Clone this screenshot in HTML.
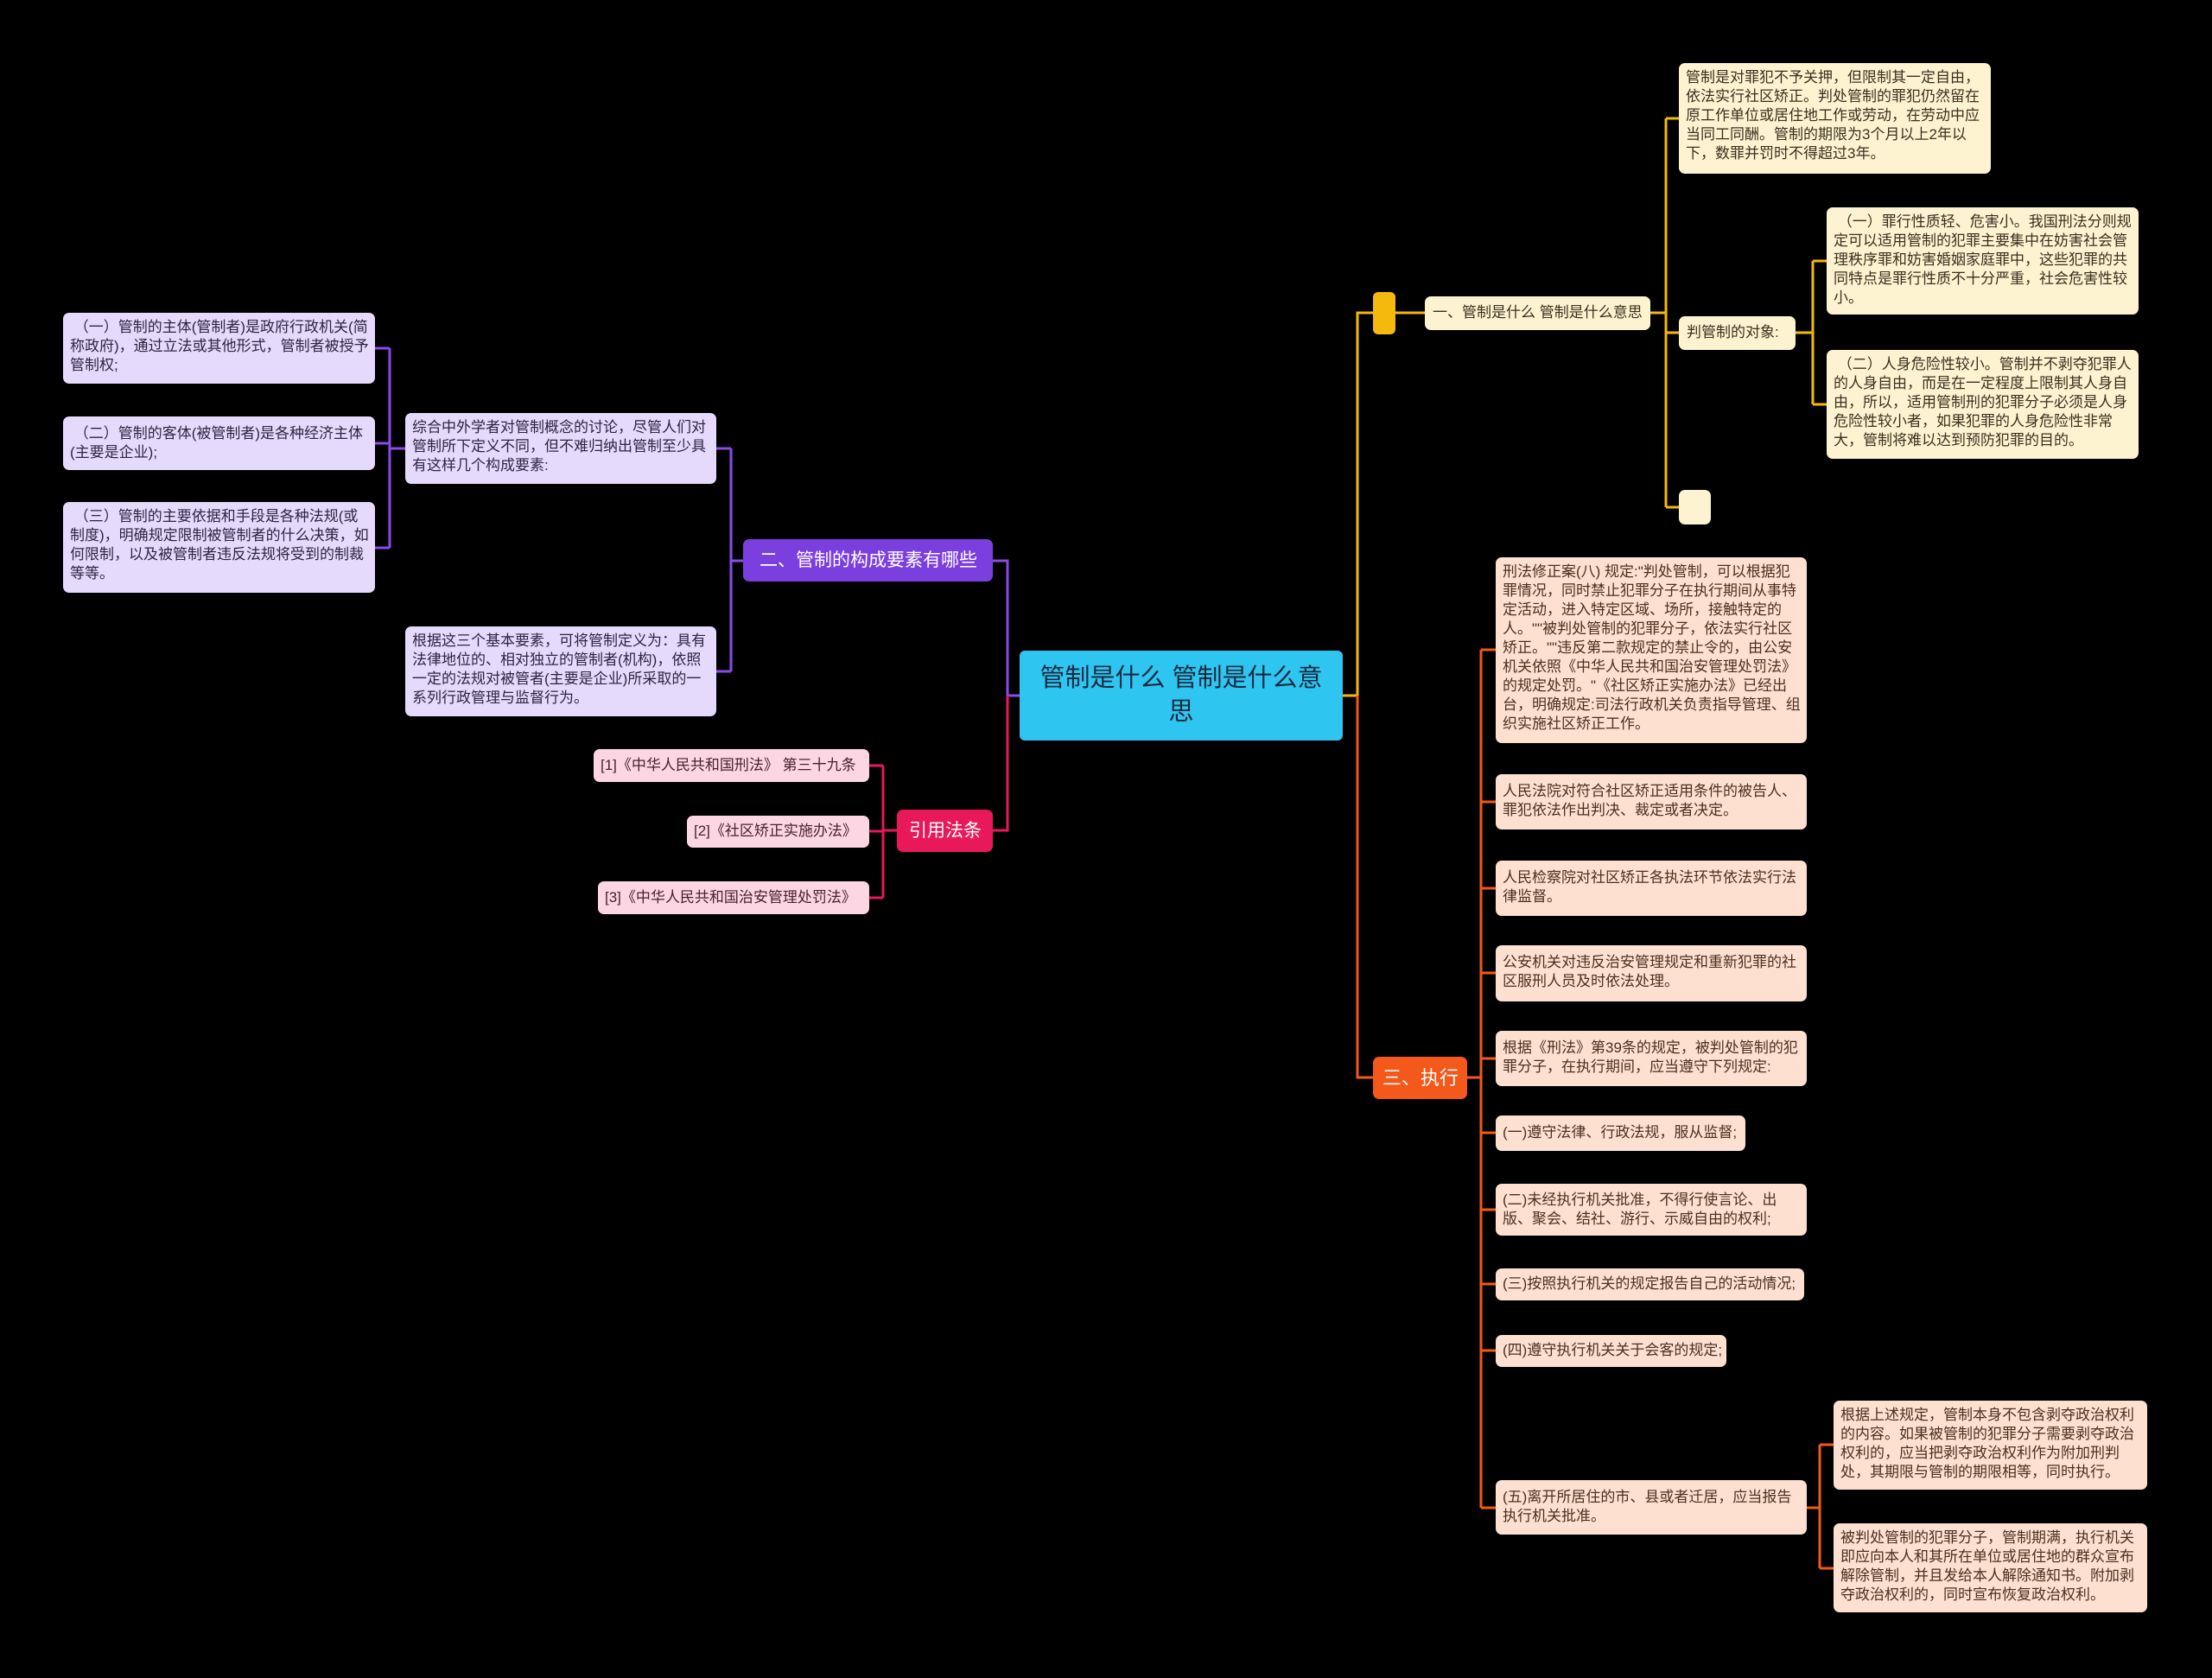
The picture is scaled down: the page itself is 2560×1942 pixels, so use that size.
<!DOCTYPE html>
<html><head><meta charset="utf-8">
<style>
html,body{margin:0;padding:0;background:#000;}
body{width:2560px;height:1942px;position:relative;overflow:hidden;font-family:"Liberation Sans","Noto Sans CJK SC",sans-serif;}
.n{position:absolute;box-sizing:border-box;border-radius:7px;font-size:17px;line-height:22px;padding:6px 7px 6px 8px;color:#3a3020;overflow:hidden;}
.nw{white-space:nowrap;}
.y{background:#fdf3d0;}
.o{background:#fde0d0;color:#4a3020;}
.p{background:#e6dafc;color:#2e2440;}
.k{background:#fcd6e2;color:#4a2030;}
svg{position:absolute;left:0;top:0;}
</style></head><body>
<svg width="2560" height="1942" fill="none" stroke-width="3">
<path d="M1554 805 H1571 M1571 805 V362 H1589" stroke="#f5b80c"/>
<path d="M1571 805 V1247 H1589" stroke="#f4581a"/>
<path d="M1615 362 H1649" stroke="#f5b80c"/>
<path d="M1910 362 H1928 M1928 137 V587 M1928 137 H1943 M1928 385 H1943 M1928 587 H1943" stroke="#f5b80c"/>
<path d="M2078 385 H2098 M2098 302 V468 M2098 302 H2114 M2098 468 H2114" stroke="#f5b80c"/>
<path d="M1698 1247 H1714 M1714 752 V1745 M1714 752 H1731 M1714 928 H1731 M1714 1028 H1731 M1714 1126 H1731 M1714 1225 H1731 M1714 1311 H1731 M1714 1400 H1731 M1714 1486 H1731 M1714 1563 H1731 M1714 1745 H1731" stroke="#f4581a"/>
<path d="M2091 1745 H2106 M2106 1672 V1815 M2106 1672 H2122 M2106 1815 H2122" stroke="#f4581a"/>
<path d="M1180 805 H1166 M1166 805 V649 H1149" stroke="#8a4be8"/>
<path d="M1166 805 V961 H1149" stroke="#e8185a"/>
<path d="M860 649 H846 M846 519 V777 M846 519 H829 M846 777 H829" stroke="#8a4be8"/>
<path d="M469 519 H451 M451 403 V634 M451 403 H434 M451 513 H434 M451 634 H434" stroke="#8a4be8"/>
<path d="M1038 961 H1022 M1022 886 V1039 M1022 886 H1006 M1022 962 H1006 M1022 1039 H1006" stroke="#e8185a"/>
</svg>

<div class="n" style="left:1180px;top:753px;width:374px;height:104px;background:#2ec5f0;color:#1a2a40;font-size:29px;line-height:39px;text-align:center;padding:13px 20px;border-radius:6px;">管制是什么 管制是什么意思</div>

<div class="n" style="left:1589px;top:338px;width:26px;height:49px;background:#f5b80c;border-radius:6px;"></div>
<div class="n y nw" style="left:1649px;top:343px;width:261px;height:39px;padding:8px 9px;">一、管制是什么 管制是什么意思</div>
<div class="n y" style="left:1943px;top:73px;width:361px;height:128px;">管制是对罪犯不予关押，但限制其一定自由，依法实行社区矫正。判处管制的罪犯仍然留在原工作单位或居住地工作或劳动，在劳动中应当同工同酬。管制的期限为3个月以上2年以下，数罪并罚时不得超过3年。</div>
<div class="n y nw" style="left:1943px;top:366px;width:135px;height:39px;padding:8px 9px;">判管制的对象:</div>
<div class="n y" style="left:2114px;top:240px;width:361px;height:124px;">&nbsp;（一）罪行性质轻、危害小。我国刑法分则规定可以适用管制的犯罪主要集中在妨害社会管理秩序罪和妨害婚姻家庭罪中，这些犯罪的共同特点是罪行性质不十分严重，社会危害性较小。</div>
<div class="n y" style="left:2114px;top:405px;width:361px;height:126px;">&nbsp;（二）人身危险性较小。管制并不剥夺犯罪人的人身自由，而是在一定程度上限制其人身自由，所以，适用管制刑的犯罪分子必须是人身危险性较小者，如果犯罪的人身危险性非常大，管制将难以达到预防犯罪的目的。</div>
<div class="n y" style="left:1943px;top:567px;width:37px;height:40px;"></div>

<div class="n nw" style="left:1589px;top:1223px;width:109px;height:49px;background:#f4581a;color:#fff;font-size:22px;line-height:37px;text-align:center;">三、执行</div>
<div class="n o" style="left:1731px;top:645px;width:360px;height:215px;">刑法修正案(八) 规定:"判处管制，可以根据犯罪情况，同时禁止犯罪分子在执行期间从事特定活动，进入特定区域、场所，接触特定的人。""被判处管制的犯罪分子，依法实行社区矫正。""违反第二款规定的禁止令的，由公安机关依照《中华人民共和国治安管理处罚法》的规定处罚。"《社区矫正实施办法》已经出台，明确规定:司法行政机关负责指导管理、组织实施社区矫正工作。</div>
<div class="n o" style="left:1731px;top:896px;width:360px;height:64px;padding-top:9px;">人民法院对符合社区矫正适用条件的被告人、罪犯依法作出判决、裁定或者决定。</div>
<div class="n o" style="left:1731px;top:996px;width:360px;height:64px;padding-top:9px;">人民检察院对社区矫正各执法环节依法实行法律监督。</div>
<div class="n o" style="left:1731px;top:1094px;width:360px;height:65px;padding-top:9px;">公安机关对违反治安管理规定和重新犯罪的社区服刑人员及时依法处理。</div>
<div class="n o" style="left:1731px;top:1193px;width:360px;height:64px;padding-top:9px;">根据《刑法》第39条的规定，被判处管制的犯罪分子，在执行期间，应当遵守下列规定:</div>
<div class="n o nw" style="left:1731px;top:1291px;width:289px;height:41px;padding-top:9px;">(一)遵守法律、行政法规，服从监督;</div>
<div class="n o" style="left:1731px;top:1370px;width:360px;height:60px;padding-top:8px;">(二)未经执行机关批准，不得行使言论、出版、聚会、结社、游行、示威自由的权利;</div>
<div class="n o nw" style="left:1731px;top:1468px;width:357px;height:37px;padding-top:7px;">(三)按照执行机关的规定报告自己的活动情况;</div>
<div class="n o nw" style="left:1731px;top:1545px;width:267px;height:37px;padding-top:7px;">(四)遵守执行机关关于会客的规定;</div>
<div class="n o" style="left:1731px;top:1713px;width:360px;height:63px;padding-top:9px;">(五)离开所居住的市、县或者迁居，应当报告执行机关批准。</div>
<div class="n o" style="left:2122px;top:1621px;width:363px;height:103px;">根据上述规定，管制本身不包含剥夺政治权利的内容。如果被管制的犯罪分子需要剥夺政治权利的，应当把剥夺政治权利作为附加刑判处，其期限与管制的期限相等，同时执行。</div>
<div class="n o" style="left:2122px;top:1763px;width:363px;height:103px;">被判处管制的犯罪分子，管制期满，执行机关即应向本人和其所在单位或居住地的群众宣布解除管制，并且发给本人解除通知书。附加剥夺政治权利的，同时宣布恢复政治权利。</div>

<div class="n nw" style="left:860px;top:624px;width:289px;height:49px;background:#7b3fe0;color:#fff;font-size:21px;line-height:37px;text-align:center;">二、管制的构成要素有哪些</div>
<div class="n p" style="left:469px;top:478px;width:360px;height:82px;">综合中外学者对管制概念的讨论，尽管人们对管制所下定义不同，但不难归纳出管制至少具有这样几个构成要素:</div>
<div class="n p" style="left:469px;top:725px;width:360px;height:104px;">根据这三个基本要素，可将管制定义为：具有法律地位的、相对独立的管制者(机构)，依照一定的法规对被管者(主要是企业)所采取的一系列行政管理与监督行为。</div>
<div class="n p" style="left:73px;top:362px;width:361px;height:82px;">&nbsp;（一）管制的主体(管制者)是政府行政机关(简称政府)，通过立法或其他形式，管制者被授予管制权;</div>
<div class="n p" style="left:73px;top:482px;width:361px;height:62px;padding-top:9px;">&nbsp;（二）管制的客体(被管制者)是各种经济主体(主要是企业);</div>
<div class="n p" style="left:73px;top:581px;width:361px;height:105px;">&nbsp;（三）管制的主要依据和手段是各种法规(或制度)，明确规定限制被管制者的什么决策，如何限制，以及被管制者违反法规将受到的制裁等等。</div>

<div class="n nw" style="left:1038px;top:937px;width:111px;height:49px;background:#e8185a;color:#fff;font-size:21px;line-height:37px;text-align:center;">引用法条</div>
<div class="n k nw" style="left:687px;top:867px;width:319px;height:38px;padding-top:8px;">[1]《中华人民共和国刑法》 第三十九条</div>
<div class="n k nw" style="left:795px;top:944px;width:211px;height:37px;padding-top:7px;">[2]《社区矫正实施办法》</div>
<div class="n k nw" style="left:692px;top:1020px;width:314px;height:38px;padding-top:8px;">[3]《中华人民共和国治安管理处罚法》</div>
</body></html>
